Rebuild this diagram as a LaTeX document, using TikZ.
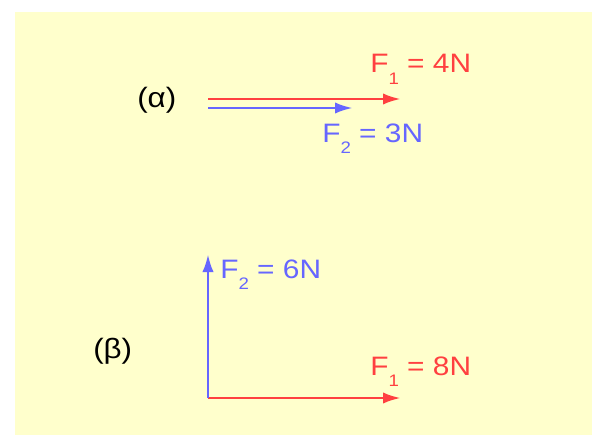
\documentclass[tikz,border=0pt]{standalone}
\usepackage{fontspec}
\setmainfont{Liberation Sans}[FakeStretch=1.12]
\usepackage{tikz}
\usetikzlibrary{arrows.meta}
\definecolor{paper}{RGB}{255,255,204}
\definecolor{forcered}{RGB}{255,64,64}
\definecolor{forceblue}{RGB}{102,102,255}
\newcommand{\Fsub}[1]{F\raisebox{-0.85ex}{\fontsize{12.5}{12.5}\selectfont #1}}

\begin{document}
\begin{tikzpicture}[
    x=0.75pt,y=-0.75pt,
    >={Latex[length=13.5pt,width=8.5pt]},
    force/.style={->,line width=2.2pt},
    lbl/.style={anchor=base west,inner sep=0pt,font=\fontsize{20}{20}\selectfont},
    part/.style={anchor=base west,inner sep=0pt,font=\fontsize{21}{21}\selectfont}
  ]
    \useasboundingbox (0,0) rectangle (592,435);
    \fill[paper] (15,12) rectangle (592,435);

    % (alpha): same direction
    \node[part] (alpha) at (137,107) {(α)};
    \coordinate (a0) at (208,99);
    \coordinate (a1) at (401,99);
    \coordinate (b0) at (208,108);
    \coordinate (b1) at (353,108);
    \draw[force,forcered] (a0) -- (a1);
    \draw[force,forceblue] (b0) -- (b1);
    \node[lbl,text=forcered] (fa1) at (370,73) {\Fsub{1} = 4N};
    \node[lbl,text=forceblue] (fa2) at (322,142) {\Fsub{2} = 3N};

    % (beta): perpendicular
    \node[part] (beta) at (93,358) {(β)};
    \coordinate (o) at (208,398);
    \coordinate (c1) at (401,398);
    \coordinate (d1) at (208,254);
    \draw[force,forcered] (o) -- (c1);
    \draw[force,forceblue] (o) -- (d1);
    \node[lbl,text=forcered] (fb1) at (370,375) {\Fsub{1} = 8N};
    \node[lbl,text=forceblue] (fb2) at (220,278) {\Fsub{2} = 6N};
  \end{tikzpicture}
\end{document}
